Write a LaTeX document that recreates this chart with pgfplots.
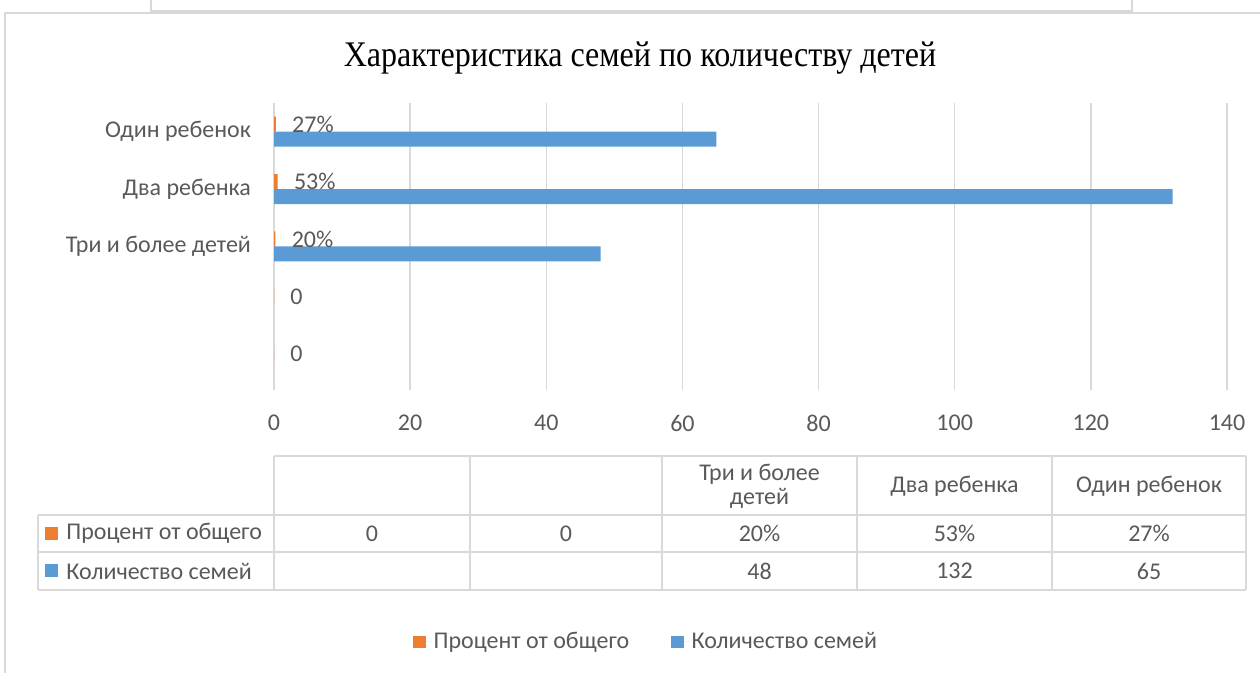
\documentclass[border=0pt]{standalone}
\usepackage{fontspec}
\setmainfont{Carlito}
\newfontfamily\titlefont{Liberation Serif}
\usepackage{graphicx}
\usepackage{pgfplots}
\pgfplotsset{compat=1.18}
\definecolor{cblue}{HTML}{5B9BD5}
\definecolor{corange}{HTML}{ED7D31}
\definecolor{ctext}{HTML}{595959}
\definecolor{cgrid}{HTML}{D9D9D9}
\newcommand{\lbl}{\fontsize{12}{14}\selectfont\color{ctext}}
\begin{document}
\begin{tikzpicture}[x=0.5pt,y=0.5pt]
\useasboundingbox (0,0) rectangle (1260,673);
% chart frame and the box above it
\draw[cgrid, line width=1pt] (5,0) -- (5,660) -- (1260,660);
\draw[cgrid, line width=1pt] (151,673) -- (151,662) -- (1132,662) -- (1132,673);
% title
\node[anchor=center] at (640,615) {\titlefont\fontsize{18}{22}\selectfont\scalebox{0.89}[1]{Характеристика семей по количеству детей}};
\begin{axis}[
  at={(137pt,141.5pt)}, anchor=south west,
  width=476.5pt, height=143.5pt, scale only axis,
  xbar, bar width=7.5pt,
  xmin=0, xmax=140, ymin=-0.5, ymax=4.5,
  xtick={0,20,...,140},
  ytick={0,1,2,3,4},
  yticklabels={,,Три и более детей,Два ребенка,Один ребенок},
  xmajorgrids, grid style={cgrid, line width=0.75pt},
  axis line style={draw=none},
  major tick length=0pt,
  /pgf/number format/assume math mode=true,
  tick label style={font=\lbl},
  xticklabel style={yshift=-9pt},
  yticklabel style={xshift=-8pt},
  clip=false,
  legend columns=2,
  legend style={at={(0.3905,-0.878)}, anchor=center, draw=none, fill=none,
    font=\lbl, /tikz/every even column/.append style={column sep=20pt},
    /tikz/every odd column/.append style={column sep=0pt},
    nodes={inner sep=1pt}},
  legend image code/.code={\fill[#1,draw=none] (0pt,-3.2pt) rectangle (6.4pt,3.2pt);
    \path (6.4pt,0pt) -- (9.2pt,0pt);},
]
\addplot[fill=corange, draw=none, bar shift=3.75pt,
  point meta=explicit symbolic, nodes near coords,
  nodes near coords style={anchor=west, inner sep=0pt, xshift=8pt, font=\lbl}]
  coordinates {(0.27,4) [27\%] (0.53,3) [53\%] (0.20,2) [20\%] (0,1) [0] (0,0) [0]};
\addlegendentry{Процент от общего}
\addplot[fill=cblue, draw=none, bar shift=-3.75pt]
  coordinates {(65,4) (132,3) (48,2)};
\addlegendentry{Количество семей}
\end{axis}
% data table
\begin{scope}[cgrid, line width=0.75pt]
\draw (274,217) -- (1246,217);
\draw (38,158) -- (1246,158);
\draw (38,121) -- (1246,121);
\draw (38,83) -- (1246,83);
\draw (38,158) -- (38,83);
\foreach \xx in {274,470,662,857,1052,1246} {\draw (\xx,217) -- (\xx,83);}
\end{scope}
\begin{scope}[every node/.style={font=\lbl, anchor=center}]
\node[align=center] at (759.5,187) {Три и более\\[-2pt]детей};
\node at (954.5,187) {Два ребенка};
\node at (1149,187) {Один ребенок};
\node at (372,139.5) {0};
\node at (566,139.5) {0};
\node at (759.5,139.5) {20\%};
\node at (954.5,139.5) {53\%};
\node at (1149,139.5) {27\%};
\node at (759.5,102) {48};
\node at (954.5,102) {132};
\node at (1149,102) {65};
\fill[corange] (45,133) rectangle (58,146);
\node[anchor=west, inner sep=0pt] at (66,139.5) {Процент от общего};
\fill[cblue] (45,95.5) rectangle (58,108.5);
\node[anchor=west, inner sep=0pt] at (66,102) {Количество семей};
\end{scope}
\end{tikzpicture}
\end{document}
